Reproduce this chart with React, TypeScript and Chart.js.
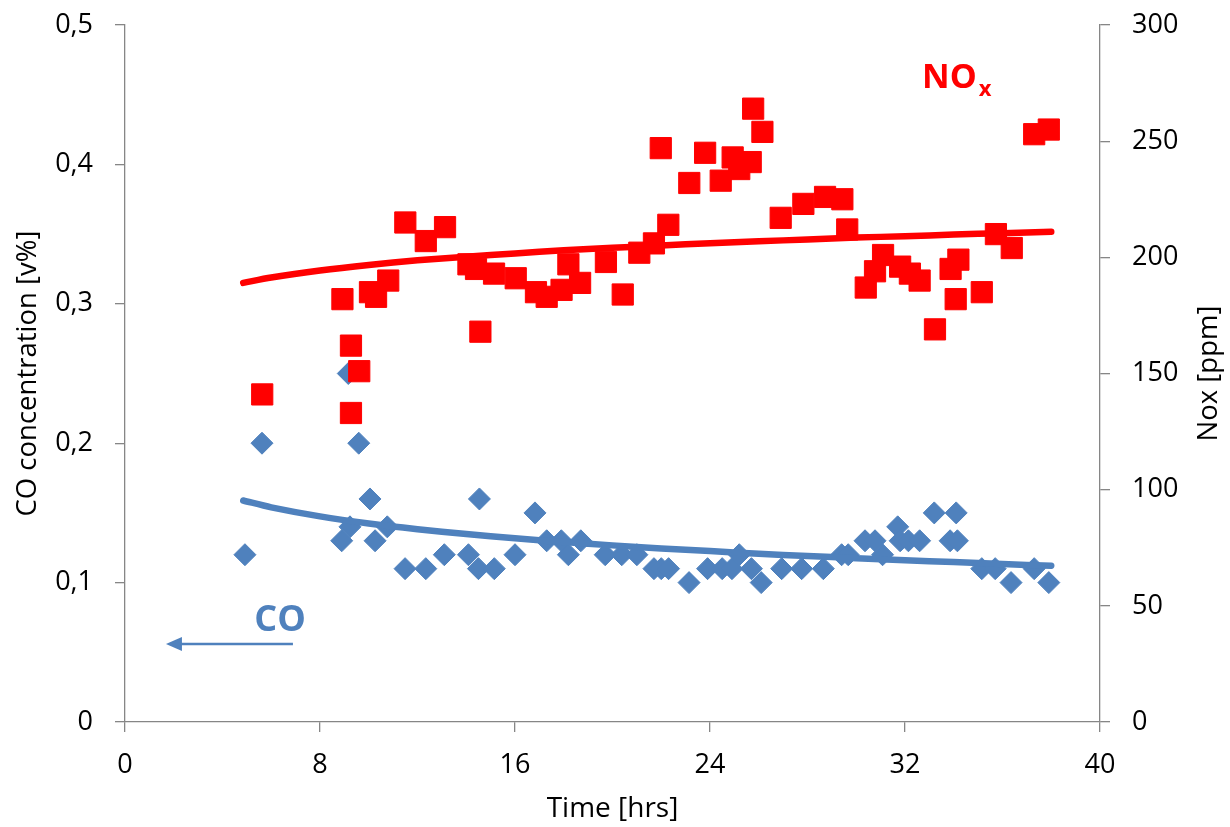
import React, { useEffect, useRef } from "react";
import { Chart, registerables } from "chart.js";

Chart.register(...registerables);

// ---------- data ----------
const coTime = [
  4.92, 5.62, 8.89, 9.16, 9.23, 9.59, 10.05, 10.26, 10.76, 11.49, 12.34, 13.1, 14.09, 14.54, 14.5,
  15.15, 16.0, 16.82, 17.3, 17.9, 18.19, 18.7, 19.7, 20.38, 21.0, 21.7, 22.0, 22.3, 23.14, 23.9,
  24.5, 24.9, 25.2, 25.7, 26.1, 26.94, 27.76, 28.65, 29.4, 29.67, 30.36, 30.77, 31.08, 31.7, 31.8,
  32.14, 32.6, 33.2, 33.85, 34.15, 34.1, 35.15, 35.7, 36.35, 37.3, 37.9,
];
const coValue = [
  0.12, 0.2, 0.13, 0.25, 0.14, 0.2, 0.16, 0.13, 0.14, 0.11, 0.11, 0.12, 0.12, 0.16, 0.11,
  0.11, 0.12, 0.15, 0.13, 0.13, 0.12, 0.13, 0.12, 0.12, 0.12, 0.11, 0.11, 0.11, 0.1, 0.11,
  0.11, 0.11, 0.12, 0.11, 0.1, 0.11, 0.11, 0.11, 0.12, 0.12, 0.13, 0.13, 0.12, 0.14, 0.13,
  0.13, 0.13, 0.15, 0.13, 0.13, 0.15, 0.11, 0.11, 0.1, 0.11, 0.1,
];
const noxTime = [
  5.63, 8.92, 9.27, 9.61, 9.27, 10.05, 10.3, 10.8, 11.5, 12.34, 13.13, 14.09, 14.4, 14.58,
  15.14, 16.03, 16.86, 17.3, 17.91, 18.19, 18.67, 19.73, 20.42, 21.1, 21.7, 21.98, 22.29,
  23.15, 23.8, 24.44, 24.93, 25.2, 25.67, 25.77, 26.15, 26.9, 27.83, 28.72, 29.43, 29.63,
  30.39, 30.77, 31.1, 31.8, 32.2, 32.6, 33.23, 33.87, 34.19, 34.08, 35.15, 35.73, 36.38,
  37.3, 37.9,
];
const noxValue = [
  141, 182, 162, 151, 133, 185, 183, 190, 215, 207, 213, 197, 195, 168,
  193, 191, 185, 183, 186, 197, 189, 198, 184, 202, 206, 247, 214,
  232, 245, 233, 243, 238, 241, 264, 254, 217, 223, 226, 225, 212,
  187, 194, 201, 196, 193, 190, 169, 195, 199, 182, 185, 210, 204,
  253, 255,
];
const trendTime = [4.85, 6, 8, 10, 12, 14, 16, 18, 20, 22, 24, 26, 28, 30, 32, 34, 36, 38];
const coTrend = [
  0.1589, 0.154, 0.1475, 0.1424, 0.1383, 0.1348, 0.1318, 0.1291, 0.1267, 0.1245, 0.1226,
  0.1207, 0.1191, 0.1175, 0.116, 0.1147, 0.1133, 0.1121,
];
const noxTrend = [
  189.0, 191.3, 194.3, 196.7, 198.7, 200.3, 201.7, 203.0, 204.1, 205.1, 206.1, 206.9,
  207.7, 208.5, 209.1, 209.8, 210.4, 211.0,
];
const xTicks = [0, 8, 16, 24, 32, 40];
const coTicks = [0, 0.1, 0.2, 0.3, 0.4, 0.5];
const noxTicks = [0, 50, 100, 150, 200, 250, 300];

// ---------- styles ----------
const FONT = "'Open Sans', sans-serif";
const BLUE = "#4F81BD";
const RED = "#FF0000";
const AXIS = "#868686";

const zip = (xs: number[], ys: number[]) => xs.map((x, i) => ({ x, y: ys[i] }));

const annotationPlugin = {
  id: "annotationPlugin",
  afterDraw(chart: any) {
    const { ctx, chartArea: a, scales } = chart;
    const sx = scales.x;
    const sy = scales.y;
    const sy1 = scales.y1;
    ctx.save();
    // axis titles
    ctx.fillStyle = "#000";
    ctx.font = `28px ${FONT}`;
    ctx.textAlign = "center";
    ctx.textBaseline = "middle";
    ctx.fillText("Time [hrs]", (a.left + a.right) / 2, 809);
    const midY = (a.top + a.bottom) / 2;
    ctx.font = `27.5px ${FONT}`;
    ctx.save();
    ctx.translate(28, midY);
    ctx.rotate(-Math.PI / 2);
    ctx.fillText("CO concentration [v%]", 0, 0);
    ctx.restore();
    ctx.save();
    ctx.translate(1209, midY);
    ctx.rotate(-Math.PI / 2);
    ctx.fillText("Nox [ppm]", 0, 0);
    ctx.restore();

    // NOx label
    ctx.textAlign = "left";
    ctx.textBaseline = "alphabetic";
    ctx.fillStyle = RED;
    ctx.font = `bold 34px ${FONT}`;
    const nx = sx.getPixelForValue(32.7);
    const ny = sy1.getPixelForValue(273);
    ctx.fillText("NO", nx, ny);
    const w = ctx.measureText("NO").width;
    ctx.font = `bold 22px ${FONT}`;
    ctx.fillText("x", nx + w + 2, ny + 8);

    // CO label + arrow
    ctx.fillStyle = BLUE;
    ctx.font = `bold 36px ${FONT}`;
    ctx.fillText("CO", sx.getPixelForValue(5.3), sy.getPixelForValue(0.0655));
    const ay = sy.getPixelForValue(0.056);
    const x1 = sx.getPixelForValue(6.89);
    const tip = sx.getPixelForValue(1.68);
    ctx.strokeStyle = BLUE;
    ctx.lineWidth = 2.5;
    ctx.beginPath();
    ctx.moveTo(x1, ay);
    ctx.lineTo(tip + 14, ay);
    ctx.stroke();
    ctx.beginPath();
    ctx.moveTo(tip, ay);
    ctx.lineTo(tip + 16, ay - 7);
    ctx.lineTo(tip + 16, ay + 7);
    ctx.closePath();
    ctx.fill();
    ctx.restore();
  },
};

export default function App() {
  const ref = useRef<HTMLCanvasElement | null>(null);

  useEffect(() => {
    document.body.style.margin = "0";
    const canvas = ref.current;
    if (!canvas) return;
    const tickFont = { family: FONT, size: 27 };
    const chart = new Chart(canvas, {
      type: "scatter",
      data: {
        datasets: [
          {
            label: "CO trend",
            data: zip(trendTime, coTrend),
            showLine: true,
            borderColor: BLUE,
            borderWidth: 6.5,
            borderCapStyle: "round",
            pointRadius: 0,
            tension: 0.3,
            yAxisID: "y",
            order: 0,
          },
          {
            label: "NOx trend",
            data: zip(trendTime, noxTrend),
            showLine: true,
            borderColor: RED,
            borderWidth: 6.5,
            borderCapStyle: "round",
            pointRadius: 0,
            tension: 0.3,
            yAxisID: "y1",
            order: 0,
          },
          {
            label: "NOx",
            data: zip(noxTime, noxValue),
            pointStyle: "rect",
            pointRadius: 15,
            backgroundColor: RED,
            borderColor: RED,
            borderWidth: 1,
            yAxisID: "y1",
            order: 1,
          },
          {
            label: "CO",
            data: zip(coTime, coValue),
            pointStyle: "rectRot",
            pointRadius: 11,
            backgroundColor: BLUE,
            borderColor: BLUE,
            borderWidth: 1,
            yAxisID: "y",
            order: 2,
          },
        ],
      },
      options: {
        responsive: false,
        animation: false,
        events: [],
        layout: { padding: { top: 25, left: 0, right: 0, bottom: 0 } },
        plugins: { legend: { display: false }, tooltip: { enabled: false } },
        scales: {
          x: {
            type: "linear",
            min: 0,
            max: 40,
            afterBuildTicks: (s: any) => {
              s.ticks = xTicks.map((v) => ({ value: v }));
            },
            afterFit: (s: any) => {
              s.height = 105;
              s.paddingLeft = 0;
              s.paddingRight = 0;
            },
            ticks: { color: "#000", font: tickFont, padding: 17, maxRotation: 0 },
            grid: { drawOnChartArea: false, drawTicks: true, tickLength: 10, color: AXIS, lineWidth: 1.3 },
            border: { display: true, color: AXIS, width: 1.3 },
          },
          y: {
            type: "linear",
            position: "left",
            min: 0,
            max: 0.5,
            afterBuildTicks: (s: any) => {
              s.ticks = coTicks.map((v) => ({ value: v }));
            },
            afterFit: (s: any) => {
              s.width = 125;
              s.paddingTop = 0;
              s.paddingBottom = 0;
            },
            ticks: {
              color: "#000",
              font: tickFont,
              padding: 22,
              callback: (v: any) => String(Math.round(Number(v) * 10) / 10).replace(".", ","),
            },
            grid: { drawOnChartArea: false, drawTicks: true, tickLength: 10, color: AXIS, lineWidth: 1.3 },
            border: { display: true, color: AXIS, width: 1.3 },
          },
          y1: {
            type: "linear",
            position: "right",
            min: 0,
            max: 300,
            afterBuildTicks: (s: any) => {
              s.ticks = noxTicks.map((v) => ({ value: v }));
            },
            afterFit: (s: any) => {
              s.width = 130;
              s.paddingTop = 0;
              s.paddingBottom = 0;
            },
            ticks: { color: "#000", font: tickFont, padding: 22 },
            grid: { drawOnChartArea: false, drawTicks: true, tickLength: 10, color: AXIS, lineWidth: 1.3 },
            border: { display: true, color: AXIS, width: 1.3 },
          },
        },
      },
      plugins: [annotationPlugin],
    } as any);
    return () => chart.destroy();
  }, []);

  return (
    <div style={{ width: 1230, height: 827, background: "#fff" }}>
      <canvas ref={ref} width={1230} height={827} style={{ display: "block" }} />
    </div>
  );
}
